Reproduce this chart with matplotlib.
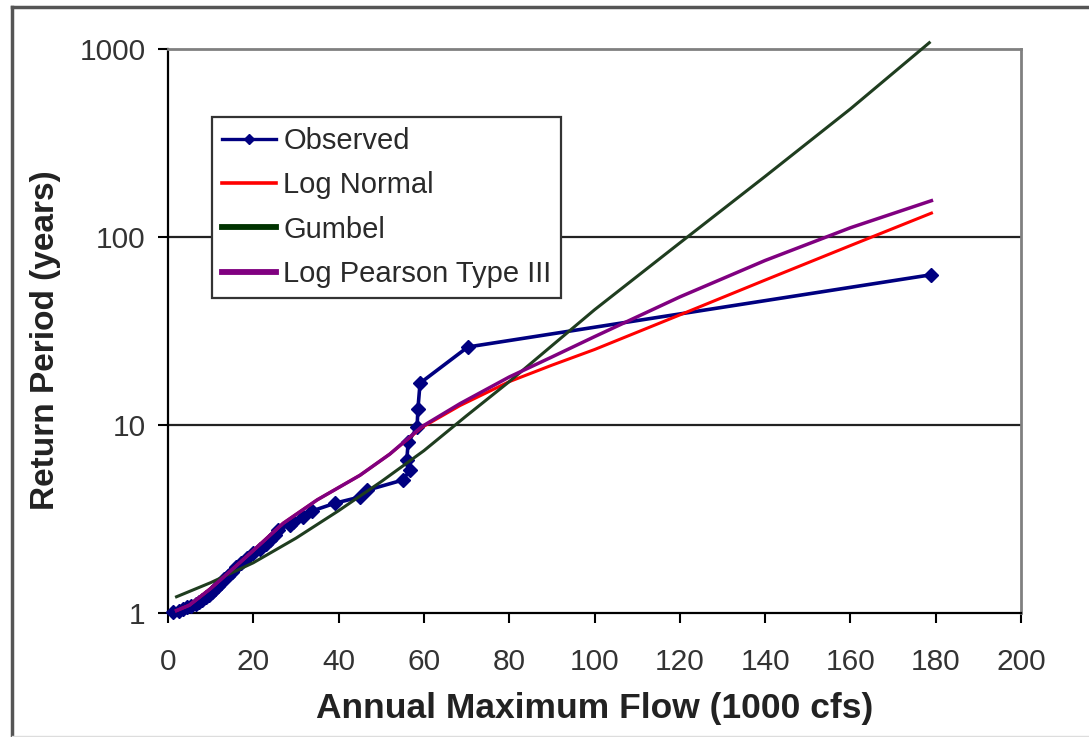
import matplotlib
matplotlib.use("Agg")
import matplotlib.pyplot as plt
from matplotlib.lines import Line2D

# observed annual peaks (1000 cfs) and their plotted return periods (years)
obs_flow = [1.2, 2.5, 3.5, 4.5, 5.5, 6.5, 7.2, 8.0, 8.8, 9.5, 10.2, 11.0, 11.8,
            12.5, 13.2, 14.0, 15.0, 16.0, 17.0, 18.5, 20.0, 21.5, 23.0, 24.0,
            25.0, 25.8, 28.5, 29.3, 31.7, 33.8, 39.2, 45.0, 46.7, 55.1, 56.7,
            56.0, 56.3, 58.4, 58.6, 59.1, 70.3, 179.0]
obs_T = [1.01, 1.03, 1.05, 1.07, 1.09, 1.11, 1.14, 1.17, 1.21, 1.25, 1.29, 1.34,
         1.39, 1.45, 1.51, 1.58, 1.66, 1.75, 1.85, 1.97, 2.08, 2.20, 2.33, 2.45,
         2.60, 2.76, 2.95, 3.05, 3.24, 3.49, 3.84, 4.14, 4.50, 5.10, 5.76, 6.50,
         8.10, 9.70, 12.2, 16.7, 26.0, 63.0]

# fitted distributions
ln_flow = [2, 5, 10, 15, 20, 27, 35, 45, 52, 59.5, 68.5, 80, 90, 100, 120, 140, 160, 179]
ln_T = [1.03, 1.10, 1.35, 1.70, 2.15, 3.0, 4.0, 5.4, 7.0, 9.7, 12.7, 17.0, 20.8,
        25.2, 38.5, 59.0, 90.0, 134.0]

gum_flow = [2, 10, 20, 30, 40, 50, 60, 70, 80, 100, 120, 140, 160, 178.5]
gum_T = [1.22, 1.45, 1.85, 2.5, 3.5, 5.0, 7.3, 11.2, 17.0, 41.0, 93.0, 210.0, 480.0, 1080.0]

lp3_flow = [2, 5, 10, 15, 20, 27, 35, 45, 52, 59.5, 68.5, 80, 90, 100, 120, 140, 160, 179]
lp3_T = [1.03, 1.10, 1.35, 1.70, 2.15, 3.0, 4.0, 5.4, 7.0, 9.8, 13.0, 18.0, 23.0,
         29.5, 48.0, 75.0, 112.0, 156.0]

xticks = [0, 20, 40, 60, 80, 100, 120, 140, 160, 180, 200]
yticks = [1, 10, 100, 1000]
ytick_labels = ['1', '10', '100', '1000']

plt.rcParams['font.family'] = ['Liberation Sans', 'DejaVu Sans']

W, H = 1089, 737
fig = plt.figure(figsize=(W / 100, H / 100), dpi=100)
ax = fig.add_axes([168 / W, 1 - 613 / H, (1021 - 168) / W, (613 - 49) / H])

navy = '#000080'
ax.plot(obs_flow, obs_T, color=navy, lw=2.6, marker='D', ms=7.5, mfc=navy,
        mec=navy, zorder=3, clip_on=False)
ax.plot(ln_flow, ln_T, color='#ff0000', lw=2.2, zorder=4)
ax.plot(gum_flow, gum_T, color='#1f3d1f', lw=2.2, zorder=4, clip_on=False)
ax.plot(lp3_flow, lp3_T, color='#800080', lw=2.5, zorder=5)

ax.set_yscale('log')
ax.set_xlim(0, 200)
ax.set_ylim(1, 1000)
ax.set_xticks(xticks)
ax.set_yticks(yticks)
ax.set_yticklabels(ytick_labels)
ax.yaxis.set_minor_locator(matplotlib.ticker.NullLocator())
ax.tick_params(axis='both', labelsize=21.5, length=7, width=1.5, color='black',
               labelcolor='#333333')
ax.tick_params(axis='x', pad=18)
ax.tick_params(axis='y', pad=9)

for yv in [10, 100]:
    ax.axhline(yv, color='#222222', lw=1.6, zorder=1)

ax.spines['left'].set_color('black')
ax.spines['bottom'].set_color('black')
ax.spines['left'].set_linewidth(1.6)
ax.spines['bottom'].set_linewidth(1.6)
ax.spines['top'].set_color('#808080')
ax.spines['right'].set_color('#808080')
ax.spines['top'].set_linewidth(2.0)
ax.spines['right'].set_linewidth(2.0)

ax.set_xlabel('Annual Maximum Flow (1000 cfs)', fontsize=25.5, fontweight='bold',
              labelpad=12, color='#222222')
ax.set_ylabel('Return Period (years)', fontsize=24, fontweight='bold',
              color='#222222')
ax.yaxis.set_label_coords(-0.125, 0.483)

handles = [
    Line2D([], [], color=navy, lw=2.4, marker='D', ms=5.5),
    Line2D([], [], color='#ff0000', lw=2.6),
    Line2D([], [], color='#003300', lw=4.2),
    Line2D([], [], color='#800080', lw=4.2),
]
labels = ['Observed', 'Log Normal', 'Gumbel', 'Log Pearson Type III']
leg = ax.legend(handles, labels, loc='upper left',
                bbox_to_anchor=((212 - 168) / (1021 - 168), 1 - (117 - 49) / (613 - 49)),
                fontsize=21, frameon=True, fancybox=False, framealpha=1,
                edgecolor='#333333', handlelength=1.85, handletextpad=0.25,
                labelspacing=0.56, borderpad=0.34, borderaxespad=0)
leg.get_frame().set_linewidth(1.6)
for t in leg.get_texts():
    t.set_color('#2a2a2a')

# outer frame of the figure
fig.add_artist(Line2D([12 / W, 12 / W], [0, 1 - 7 / H], color='#555555', lw=2.5))
fig.add_artist(Line2D([12 / W, 1], [1 - 7 / H, 1 - 7 / H], color='#555555', lw=2.5))
fig.add_artist(Line2D([12 / W, 1], [1 / H, 1 / H], color='#dddddd', lw=1.0))

fig.savefig('out.png', dpi=100)
